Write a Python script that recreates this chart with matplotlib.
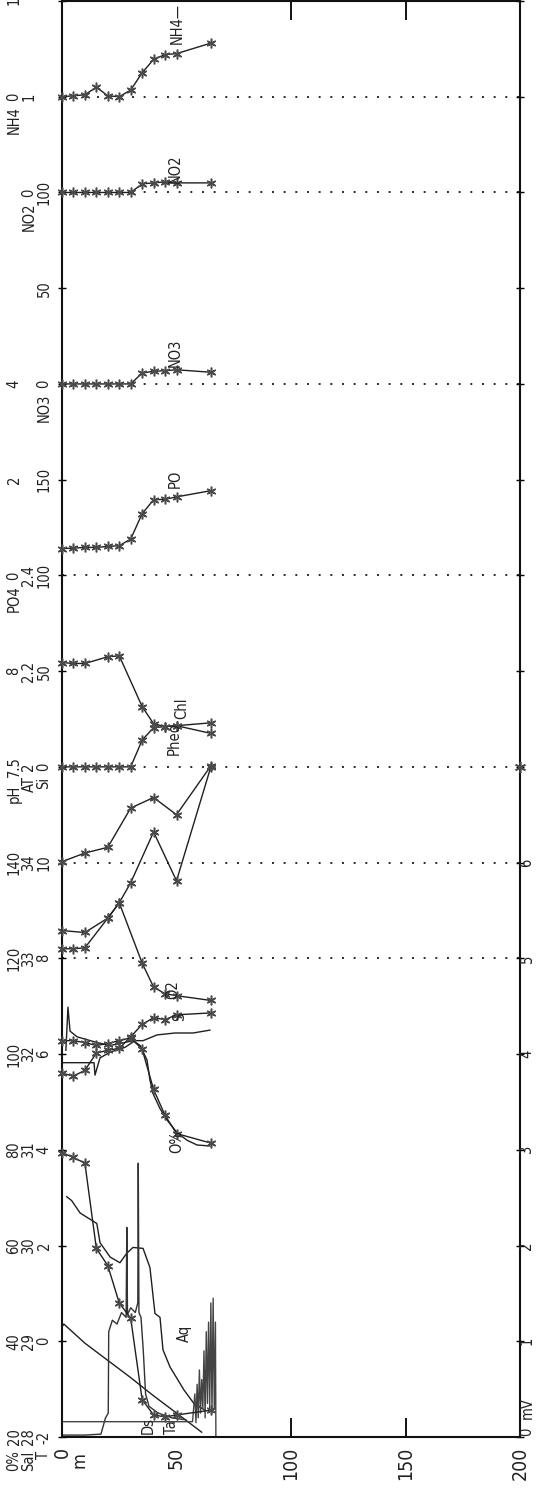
import matplotlib
matplotlib.use("Agg")
import matplotlib.pyplot as plt
from matplotlib.transforms import blended_transform_factory

plt.rcParams['font.family'] = ['DejaVu Sans']
plt.rcParams['font.stretch'] = 'condensed'

# ---------------- data ----------------
depths = [0, 5, 10, 15, 20, 25, 30, 35, 40, 45, 50, 65]          # bottle depths (m)

nh4 = [0.0, 0.01, 0.02, 0.10, 0.01, 0.0, 0.07, 0.25, 0.39, 0.44, 0.45, 0.56]
no2 = [0, 0, 0, 0, 0, 0, 0, 0.09, 0.10, 0.11, 0.10, 0.10]
no3 = [0, 0, 0, 0, 0, 0, 0, 5.7, 6.6, 6.9, 7.4, 6.1]
po4 = [0.56, 0.57, 0.585, 0.585, 0.605, 0.62, 0.76, 1.29, 1.58, 1.59, 1.64, 1.77]
pheo = [0, 0, 0, 0, 0, 0, 0, 0.28, 0.41, 0.42, 0.43, 0.35]

chl_depths = [0, 5, 10, 20, 25, 35, 40, 45, 50, 65]
chl = [1.09, 1.08, 1.08, 1.15, 1.16, 0.63, 0.45, 0.42, 0.43, 0.46]

a_depths = [0, 10, 20, 30, 40, 50, 65]
series_a = [6.01, 6.10, 6.16, 6.57, 6.68, 6.50, 7.01]          # axis units
b_depths = [0, 10, 20, 25, 30, 40, 50, 65]
series_b = [5.29, 5.27, 5.42, 5.58, 5.79, 6.32, 5.81, 7.0]     # axis units

o2_depths = [0, 5, 10, 20, 25, 35, 40, 45, 50, 65]
o2 = [8.2, 8.2, 8.22, 8.84, 9.16, 7.9, 7.4, 7.26, 7.22, 7.12]

sal_bottle = [31.80, 31.77, 31.83, 32.01, 32.04, 32.06, 32.18, 32.31, 32.38, 32.36, 32.41, 32.43]
t_bottle = [3.94, 3.84, 3.72, 1.94, 1.58, 0.80, 0.48, -1.22, -1.54, -1.58, -1.54, -1.44]
oxsat_bottle = [102.8, 102.8, 102.4, 101.8, 102.2, 102.8, 103.4, 101.0, 92.6, 87.2, 83.4, 81.4]

# CTD profiles
oxsat_ctd_depth = [1.7, 2.6, 3.5, 6.6, 15.3, 21.0, 25.3, 31.0, 34.1, 37.1, 38.4, 39.7,
                   42.8, 45.9, 50.2, 54.6, 59.0, 64.6]
oxsat_ctd = [100.8, 109.8, 104.8, 103.6, 102.4, 101.8, 102.2, 102.8, 101.8, 98.8, 94.6, 91.8,
             88.6, 86.2, 83.6, 82.0, 81.0, 80.8]

sal_ctd_depth = [0.4, 14.0, 14.4, 16.6, 21.0, 27.5, 31.9, 35.4, 41.5, 49.3, 57.2, 64.6]
sal_ctd = [31.91, 31.91, 31.78, 31.96, 32.02, 32.07, 32.14, 32.14, 32.20, 32.22, 32.22, 32.25]

t_ctd_depth = [2.05, 4.2, 7.9, 15.2, 16.6, 21.0, 25.3, 28.3, 31.0, 35.4, 38.4, 40.6,
               42.8, 44.1, 47.2, 53.3, 57.6, 62.4]
t_ctd = [3.02, 2.94, 2.68, 2.46, 2.06, 1.76, 1.64, 1.84, 1.96, 1.94, 1.54, 0.58,
         0.50, -0.18, -0.54, -1.02, -1.30, -1.44]

light_depth = [0, 0.8, 10, 20, 30, 40, 50, 61]
light_mv = [1.15, 1.18, 0.98, 0.80, 0.62, 0.43, 0.25, 0.05]

ds_depth = [0, 10, 17, 19, 20.2, 20.4, 22, 24, 26, 28, 28.3, 28.6, 30, 32, 33.1, 33.3,
            33.6, 34.5, 35.5, 36.5, 38, 42, 48, 54]
ds_mv = [0.02, 0.02, 0.03, 0.2, 0.25, 1.10, 1.22, 1.18, 1.30, 1.25, 2.19, 1.28, 1.35, 1.30,
         1.40, 2.86, 1.30, 1.25, 0.9, 0.45, 0.32, 0.25, 0.2, 0.18]

aq_depth = [0, 57, 58, 58.5, 59, 59.5, 60, 60.5, 61, 61.5, 62, 62.5, 63, 63.5, 64, 64.5,
            65, 65.5, 66, 66.5, 67, 67.2]
aq_mv = [0.16, 0.16, 0.45, 0.15, 0.55, 0.2, 0.7, 0.25, 0.6, 0.3, 0.9, 0.2, 1.1, 0.35,
         1.2, 0.3, 1.4, 0.25, 1.45, 0.3, 1.2, 0.0]

edge_depth = [200]
edge_units = [7]

# axis scale labels (three stacked columns) : {axis unit: text}
col1_labels = {0: '20', 1: '40', 2: '60', 3: '80', 4: '100', 5: '120', 6: '140',
               7: '7.5', 8: '8', 9: '0', 10: '2', 11: '4', 14: '0', 15: '1'}
col2_labels = {0: '28', 1: '29', 2: '30', 3: '31', 4: '32', 5: '33', 6: '34',
               7: '2', 8: '2.2', 9: '2.4', 13: '0', 14: '1'}
col3_labels = {0: '-2', 1: '0', 2: '2', 3: '4', 4: '6', 5: '8', 6: '10',
               7: '0', 8: '50', 9: '100', 10: '150', 11: '0', 12: '50', 13: '100'}
col1_names = {0: '0%', 7: 'pH', 9: 'PO4', 14: 'NH4'}
col2_names = {0: 'Sal', 7: 'AT', 13: 'NO2'}
col3_names = {0: 'T', 7: 'Si', 11: 'NO3'}
right_labels = {1: '1', 2: '2', 3: '3', 4: '4', 5: '5', 6: '6'}
right_zero = '0'
right_unit = 'mV'
depth_ticks = [0, 50, 100, 150, 200]
depth_unit = 'm'
dotted_levels = [5, 6, 7, 9, 11, 13, 14]

# scale: (value at reference unit, value per unit, reference unit)
SCALES = {
    'O%': (20, 20, 0), 'Sal': (28, 1, 0), 'T': (-2, 2, 0), 'mV': (0, 1, 0),
    'Chl': (0, 1, 7), 'PO4': (0, 2, 9), 'NO3': (0, 50, 11), 'NO2': (0, 1, 13),
    'NH4': (0, 1, 14), 'U': (0, 1, 0),
}


def to_u(vals, key):
    v0, step, u0 = SCALES[key]
    return [u0 + (v - v0) / step for v in vals]


# ---------------- figure ----------------
W, H = 547, 1497
fig = plt.figure(figsize=(W / 100, H / 100), dpi=100)
L, R, B, T = 62, 520, 1437, 1
ax = fig.add_axes([L / W, (H - B) / H, (R - L) / W, (B - T) / H])
ax.set_xlim(0, 200)
ax.set_ylim(0, 15)

LINE = '#1f1f1f'
MK = '#4a4a4a'
AST = (6, 2, 0)
TXT = '#222222'


def bottle(d, u):
    ax.plot(d, u, color=LINE, lw=1.0, marker=AST, ms=7, mec=MK, mew=1.1,
            zorder=3, clip_on=False)


def ctd(d, u, color=LINE):
    ax.plot(d, u, color=color, lw=1.0, zorder=2)


ax.hlines(dotted_levels, 0, 200, colors='#2a2a2a', linestyles=(0, (1, 5)), lw=1.4, zorder=1)

bottle(depths, to_u(nh4, 'NH4'))
bottle(depths, to_u(no2, 'NO2'))
bottle(depths, to_u(no3, 'NO3'))
bottle(depths, to_u(po4, 'PO4'))
bottle(depths, to_u(pheo, 'Chl'))
bottle(chl_depths, to_u(chl, 'Chl'))
bottle(a_depths, to_u(series_a, 'U'))
bottle(b_depths, to_u(series_b, 'U'))
bottle(o2_depths, to_u(o2, 'T'))
bottle(depths, to_u(sal_bottle, 'Sal'))
bottle(depths, to_u(t_bottle, 'T'))
bottle(depths, to_u(oxsat_bottle, 'O%'))
ax.plot(edge_depth, to_u(edge_units, 'U'), ls='none', marker=AST, ms=8, mec=MK, mew=1.2,
        clip_on=False, zorder=4)

ctd(oxsat_ctd_depth, to_u(oxsat_ctd, 'O%'))
ctd(sal_ctd_depth, to_u(sal_ctd, 'Sal'))
ctd(t_ctd_depth, to_u(t_ctd, 'T'))
ctd(light_depth, to_u(light_mv, 'mV'))
ctd(ds_depth, to_u(ds_mv, 'mV'), color='#333333')
ctd(aq_depth, to_u(aq_mv, 'mV'), color='#444444')

# ---------------- axes styling ----------------
for s in ax.spines.values():
    s.set_linewidth(1.5)
    s.set_color('#111111')
ax.set_yticks(range(16))
ax.yaxis.set_ticks_position('both')
ax.tick_params(axis='y', direction='inout', length=6, width=1.0,
               labelleft=False, labelright=False)
ax.set_xticks([100, 150])
ax.xaxis.set_ticks_position('both')
ax.tick_params(axis='x', direction='in', length=14, width=1.3,
               labelbottom=False, labeltop=False)

FS = 10.5
trans = blended_transform_factory(ax.transAxes, ax.transData)
col_x = [(14 - L) / (R - L), (29 - L) / (R - L), (44 - L) / (R - L)]


def put_scale(xf, labels, names):
    for u, s in labels.items():
        ax.text(xf, u, s, transform=trans, rotation=90, rotation_mode='anchor',
                ha='center', va='center', fontsize=FS, color=TXT, clip_on=False)
    for u, s in names.items():
        val = labels.get(u, '')
        off = len(val) * 0.55 * FS / 2 + 4
        ax.annotate(s, xy=(xf, u), xycoords=trans, xytext=(0, -off),
                    textcoords='offset points', rotation=90, rotation_mode='anchor',
                    ha='right', va='center', fontsize=FS, color=TXT,
                    annotation_clip=False)


put_scale(col_x[0], col1_labels, col1_names)
put_scale(col_x[1], col2_labels, col2_names)
put_scale(col_x[2], col3_labels, col3_names)

rx = (527 - L) / (R - L)
put_scale(rx, right_labels, {})
ax.annotate(right_zero, xy=(rx, 0), xycoords=trans, xytext=(0, 1),
            textcoords='offset points', rotation=90, rotation_mode='anchor',
            ha='left', va='center', fontsize=FS, color=TXT, annotation_clip=False)
ax.annotate(right_unit, xy=(rx, 0), xycoords=trans, xytext=(0, 13),
            textcoords='offset points', rotation=90, rotation_mode='anchor',
            ha='left', va='center', fontsize=FS, color=TXT, annotation_clip=False)

for d in depth_ticks:
    ax.annotate(str(d), xy=(d, 0), xycoords='data', xytext=(0, -7),
                textcoords='offset points', rotation=90, rotation_mode='anchor',
                ha='right', va='center', fontsize=14, color=TXT,
                annotation_clip=False)
ax.annotate(depth_unit, xy=(7.5, 0), xycoords='data', xytext=(0, -11),
            textcoords='offset points', rotation=90, rotation_mode='anchor',
            ha='right', va='center', fontsize=13, color=TXT, annotation_clip=False)

# series labels (text start, rotated)
series_labels = [
    ('NH4\u2014', 50.2, 14.55), ('NO2', 49.3, 13.10), ('NO3', 49.3, 11.18),
    ('PO', 49.3, 9.91), ('Pheo', 48.9, 7.12), ('Chl', 52.5, 7.50),
    ('O2', 48.5, 4.57), ('S', 51.5, 4.35), ('O%', 50.2, 2.97),
    ('Aq', 53.3, 0.99), ('Ds', 37.6, 0.03), ('Ta', 48.0, 0.03),
]
for s, d, u in series_labels:
    ax.text(d, u, s, rotation=90, rotation_mode='anchor', ha='left', va='center',
            fontsize=FS, color=TXT, zorder=5)

fig.savefig('out.png', dpi=100)
